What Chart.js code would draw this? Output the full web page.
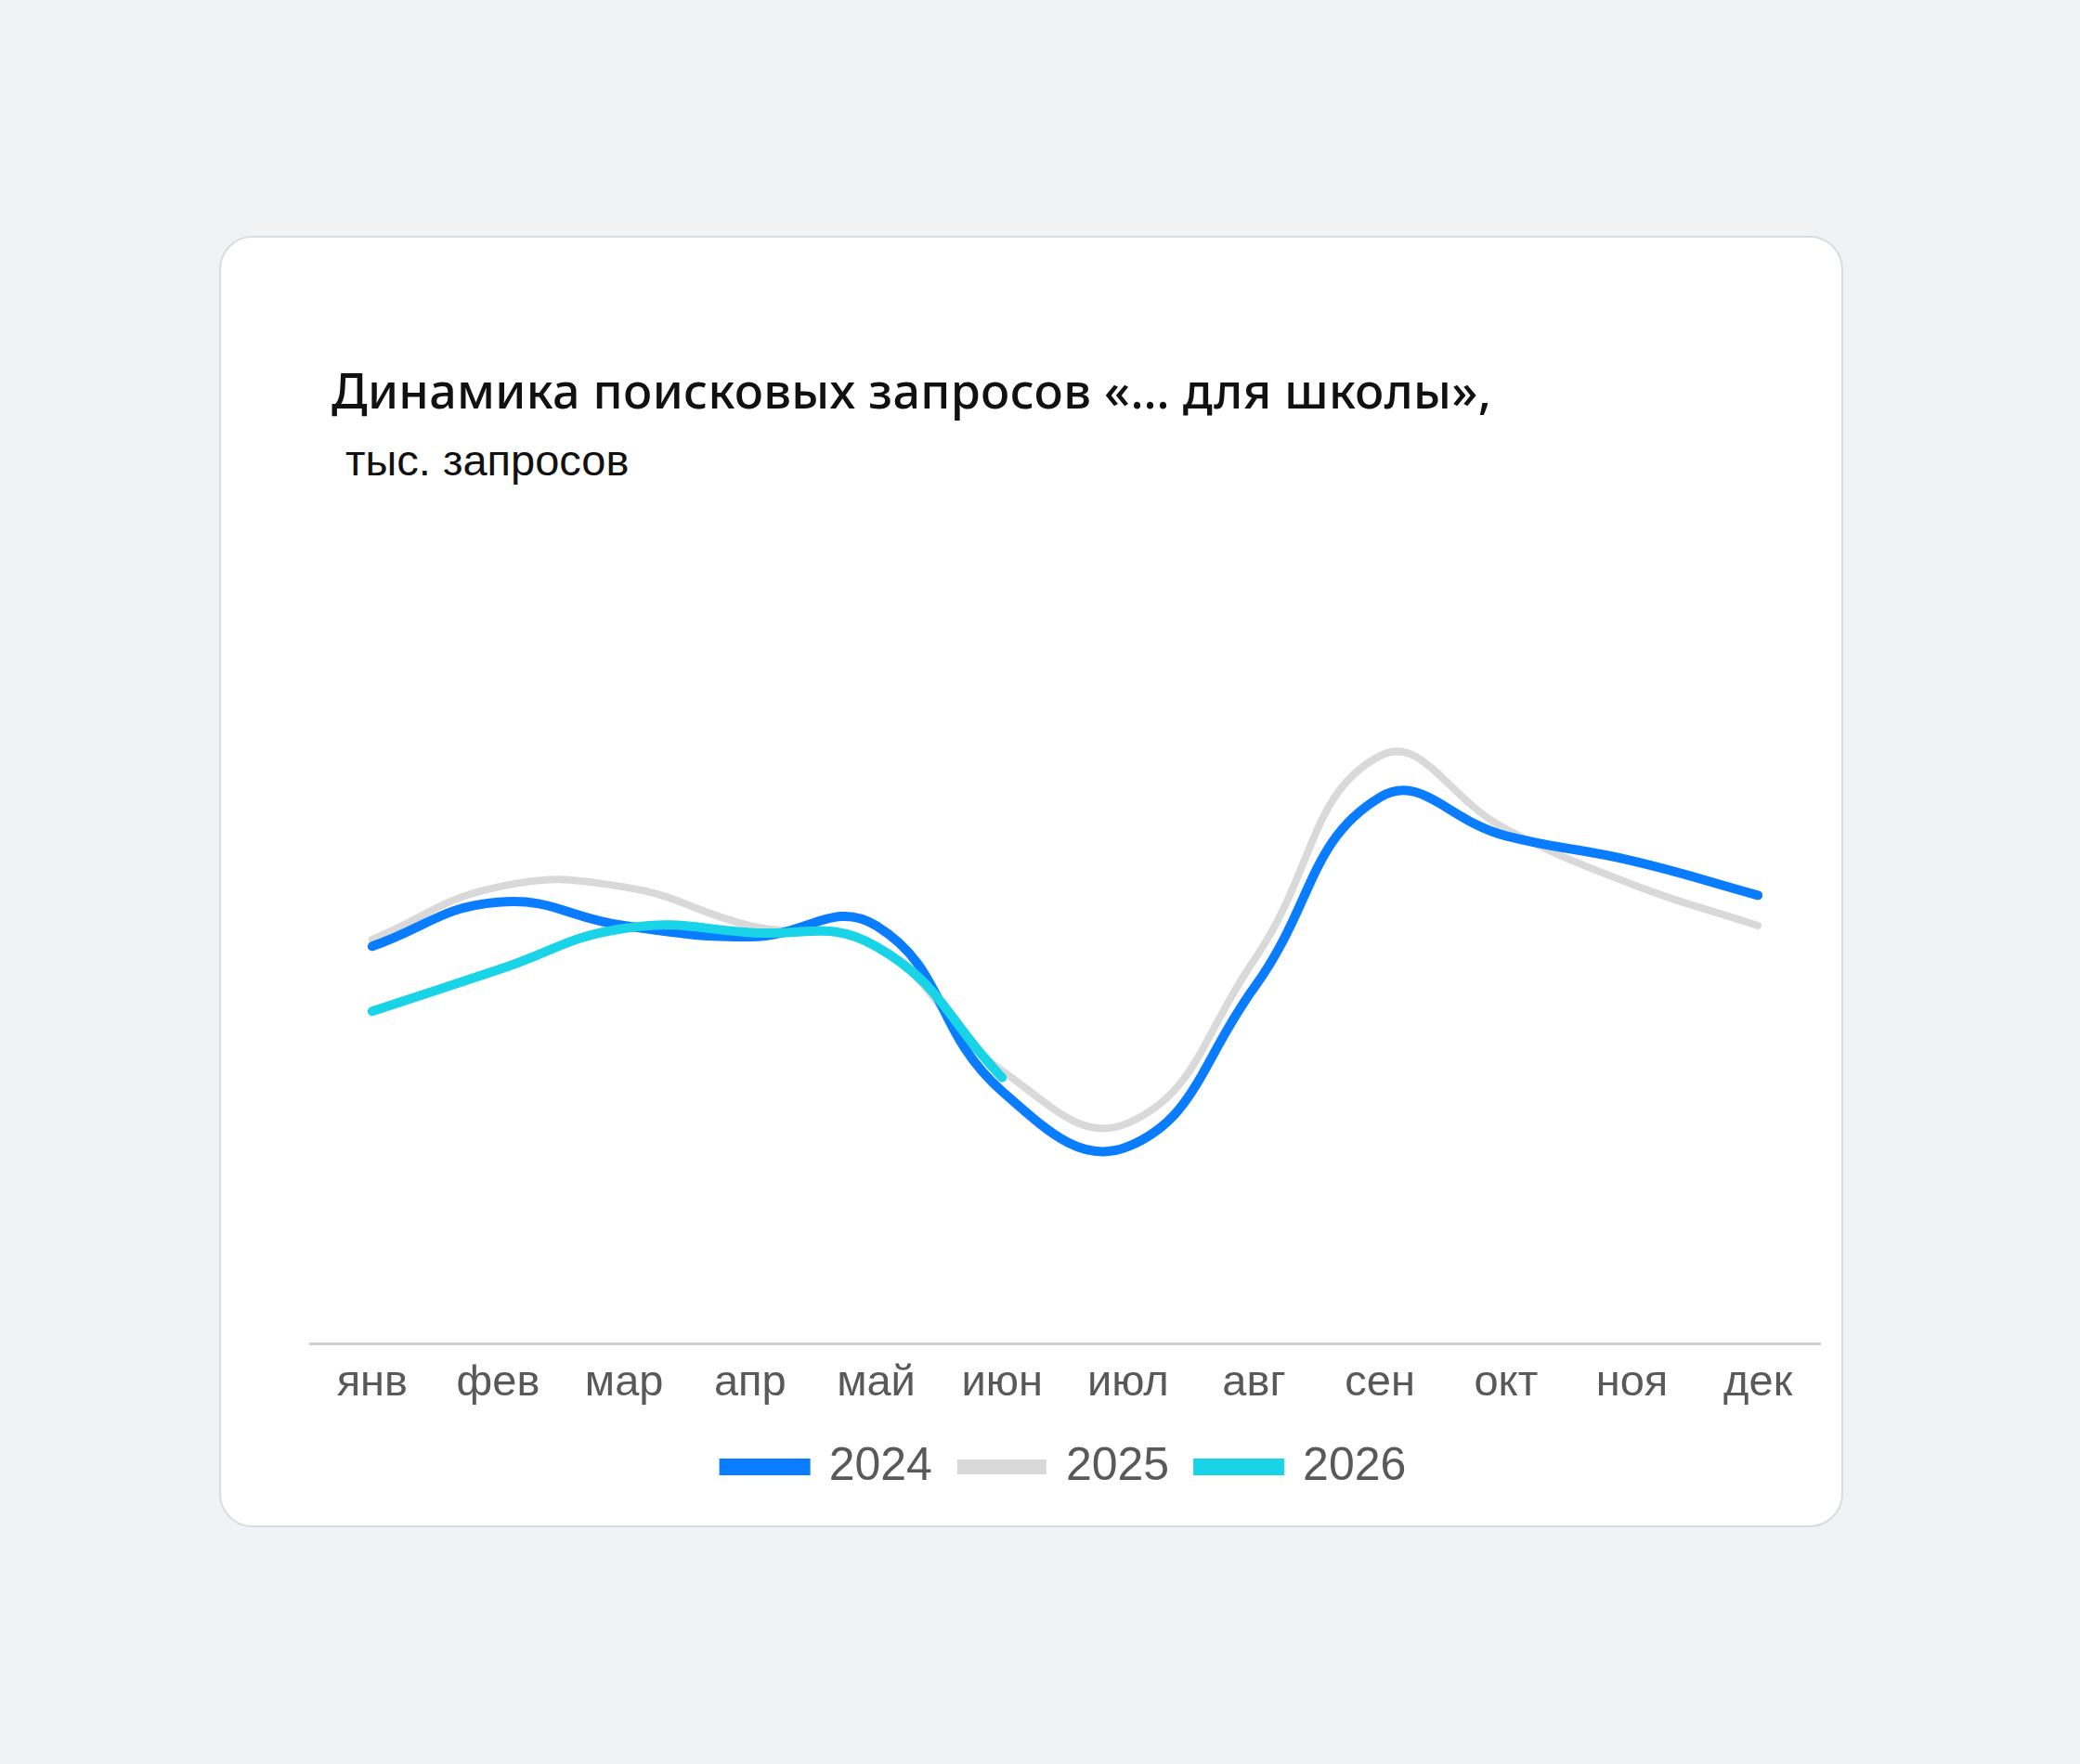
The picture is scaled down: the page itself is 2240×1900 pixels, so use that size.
<!DOCTYPE html>
<html>
<head>
<meta charset="utf-8">
<script src="https://cdn.jsdelivr.net/npm/chart.js@4"></script>
<style>
  body { margin: 0; background: #f1f2f4; width: 2240px; height: 1900px; position: relative; }
  .card { position: absolute; left: 236px; top: 254px; width: 1745px; height: 1387px;
          background: #fff; border: 2px solid #d5dde3; border-radius: 36px; }
  .title { position: absolute; left: 357px; top: 384px; font: 500 52px "Noto Sans", sans-serif; color: #111; letter-spacing: 0.3px; }
  .sub { position: absolute; left: 372px; top: 468px; font: 47px "Liberation Sans", Arial, sans-serif; color: #111; }
  .wrap { position: absolute; left: 333px; top: 600px; width: 1628px; height: 1015px; }
</style>
</head>
<body>
<div class="card"></div>
<div class="title">Динамика поисковых запросов «… для школы»,</div>
<div class="sub">тыс. запросов</div>
<div class="wrap"><canvas id="c"></canvas></div>
<script>
const months = ['янв', 'фев', 'мар', 'апр', 'май', 'июн', 'июл', 'авг', 'сен', 'окт', 'ноя', 'дек'];
const y2024 = [28.8, 32.0, 30.3, 29.5, 30.3, 18.3, 14.3, 25.8, 39.6, 36.8, 35.0, 32.5];
const y2025 = [29.3, 33.1, 33.1, 30.3, 28.8, 19.8, 16.0, 27.8, 42.6, 37.3, 33.3, 30.3];
const y2026 = [24.1, 27.1, 30.1, 29.8, 28.8, 19.3];

const ctx = document.getElementById('c').getContext('2d');
new Chart(ctx, {
    type: 'line',
    data: {
        labels: months,
        datasets: [
            { label: '2024', data: y2024, borderColor: '#0a7cff', backgroundColor: '#0a7cff', order: 2 },
            { label: '2025', data: y2025, borderColor: '#d9d9d9', backgroundColor: '#d9d9d9', order: 3, borderWidth: 8 },
            { label: '2026', data: y2026, borderColor: '#18d4e6', backgroundColor: '#18d4e6', order: 1 }
        ]
    },
    options: {
        responsive: true,
        maintainAspectRatio: false,
        animation: false,
        elements: {
            line: { borderWidth: 10, tension: 0.45, borderCapStyle: 'round' },
            point: { radius: 0 }
        },
        layout: { padding: 0 },
        scales: {
            y: { display: false, min: 0, max: 57 },
            x: {
                offset: true,
                grid: { display: false },
                border: { display: true, color: '#cfcfcf', width: 3 },
                ticks: { color: '#595959', font: { family: 'Liberation Sans', size: 47 }, padding: 6 }
            }
        },
        plugins: {
            legend: {
                position: 'bottom',
                labels: {
                    color: '#595959',
                    font: { family: 'Liberation Sans', size: 50 },
                    boxWidth: 88, boxHeight: 8, padding: 31,
                    sort: (a, b) => a.datasetIndex - b.datasetIndex
                }
            },
            tooltip: { enabled: false }
        }
    }
});
</script>
</body>
</html>
